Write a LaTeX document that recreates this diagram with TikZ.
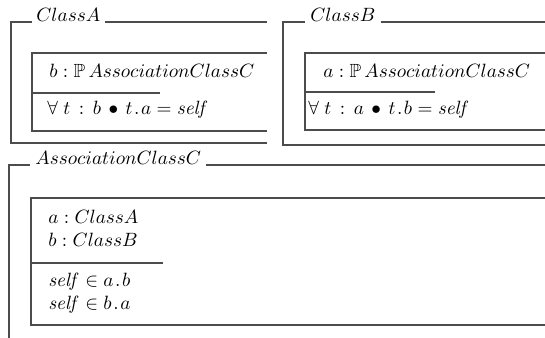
\documentclass[tikz,border=0pt]{standalone}
\usepackage{amssymb}
\newcommand{\zspot}{\mskip3mu\bullet\mskip3mu}
\newcommand{\zcol}{\mskip3mu:\mskip3mu}
\newcommand{\zdot}{\mskip1.5mu.\mskip1.5mu}
\begin{document}
\begin{tikzpicture}[x=0.52pt,y=-0.52pt,
  frame/.style={line width=0.7pt, draw=black!70},
  ttl/.style={anchor=base west, inner sep=0pt, font=\fontsize{9.9}{12}\selectfont},
  txt/.style={anchor=base west, inner sep=0pt, font=\fontsize{9.9}{12}\selectfont}]
\useasboundingbox (0,0) rectangle (545,338);
% ---- ClassA
\node[ttl] (tA) at (36,22) {$ClassA$};
\draw[frame] (32,22) -- (11,22) -- (11,143) -- (267,143);
\draw[frame] ([xshift=2.5pt]tA.base east) -- (267,22);
\draw[frame] (267,53) -- (32,53) -- (32,131) -- (267,131);
\draw[frame] (32,93) -- (160,93);
\node[txt] (a1) at (49,78) {$b : \mathbb{P}\, AssociationClassC$};
\node[txt] (a2) at (47,115) {$\forall\; t \zcol b \zspot t\zdot a = \mathit{self}$};
% ---- ClassB
\node[ttl] (tB) at (310,22) {$ClassB$};
\draw[frame] (305,22) -- (283,22) -- (283,145) -- (545,145);
\draw[frame] ([xshift=2.5pt]tB.base east) -- (545,22);
\draw[frame] (545,53) -- (305,53) -- (305,130) -- (545,130);
\draw[frame] (305,92) -- (435,92);
\node[txt] (b1) at (323,78) {$a : \mathbb{P}\, AssociationClassC$};
\node[txt] (b2) at (308,115) {$\forall\; t \zcol a \zspot t\zdot b = \mathit{self}$};
% ---- AssociationClassC
\node[ttl] (tC) at (35,165) {$AssociationClassC$};
\draw[frame] (30,165) -- (9,165) -- (9,338);
\draw[frame] ([xshift=2.5pt]tC.base east) -- (545,165);
\draw[frame] (545,198) -- (31,198) -- (31,325) -- (545,325);
\draw[frame] (31,263) -- (163,263);
\node[txt] (c1) at (48,224) {$a : ClassA$};
\node[txt] (c2) at (48,247) {$b : ClassB$};
\node[txt] (c3) at (48,287) {$\mathit{self} \in a\zdot b$};
\node[txt] (c4) at (48,310) {$\mathit{self} \in b\zdot a$};
\end{tikzpicture}
\end{document}
